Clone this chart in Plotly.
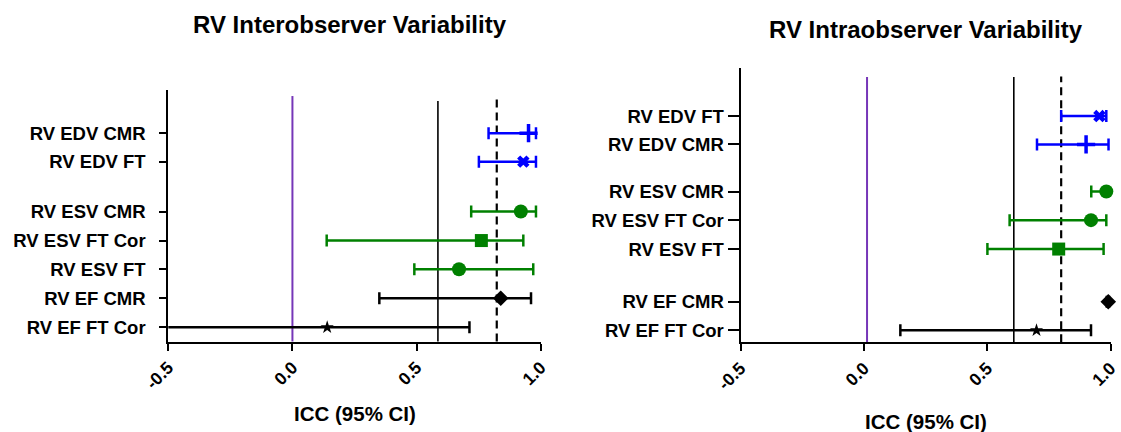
import plotly.graph_objects as go

# ---------------- data ----------------
left_labels = ["RV EDV CMR", "RV EDV FT", "RV ESV CMR", "RV ESV FT Cor", "RV ESV FT", "RV EF CMR", "RV EF FT Cor"]
left_icc = [0.951, 0.930, 0.920, 0.761, 0.671, 0.839, 0.140]
left_lower = [0.790, 0.751, 0.720, 0.138, 0.491, 0.350, -0.55]
left_upper = [0.981, 0.981, 0.981, 0.930, 0.970, 0.961, 0.713]
left_rows = [6.69, 5.71, 3.99, 2.99, 2.00, 1.00, 0.00]

right_labels = ["RV EDV FT", "RV EDV CMR", "RV ESV CMR", "RV ESV FT Cor", "RV ESV FT", "RV EF CMR", "RV EF FT Cor"]
right_icc = [0.955, 0.901, 0.983, 0.921, 0.790, 0.991, 0.700]
right_lower = [0.800, 0.702, 0.922, 0.591, 0.501, 0.985, 0.148]
right_upper = [0.983, 0.992, 0.990, 0.983, 0.972, 0.995, 0.921]
right_rows = [7.49, 6.50, 4.85, 3.85, 2.84, 1.00, 0.00]

left_refs = {"purple": 0.0, "solid": 0.586, "dashed": 0.823}
right_refs = {"purple": 0.013, "solid": 0.608, "dashed": 0.800}

x_ticks = [-0.5, 0.0, 0.5, 1.0]
x_ticktext = ["-0.5", "0.0", "0.5", "1.0"]

# ---------------- styles ----------------
BLUE = "#0000ff"
GREEN = "#008000"
BLACK = "#000000"
PURPLE = "#7636b8"

left_style = [
    (BLUE, "cross-thin", 13), (BLUE, "x", 11), (GREEN, "circle", 14),
    (GREEN, "square", 13), (GREEN, "circle", 14), (BLACK, "diamond", 12), (BLACK, "star", 10),
]
right_style = [
    (BLUE, "x", 11), (BLUE, "cross-thin", 13), (GREEN, "circle", 14),
    (GREEN, "circle", 14), (GREEN, "square", 13), (BLACK, "diamond", 12), (BLACK, "star", 10),
]

FONT = "Liberation Sans, Arial, sans-serif"

fig = go.Figure()


def add_panel(labels, icc, lo, hi, rows, styles, xa, ya):
    for lab, v, l, h, r, (col, sym, sz) in zip(labels, icc, lo, hi, rows, styles):
        fig.add_trace(go.Scatter(
            x=[v], y=[r], mode="markers", name=lab, showlegend=False,
            xaxis=xa, yaxis=ya, cliponaxis=False,
            marker=dict(symbol=sym, size=sz, color=col,
                        line=dict(color=col, width=3.5 if "thin" in sym else 0)),
            error_x=dict(type="data", symmetric=False, array=[h - v], arrayminus=[v - l],
                         color=col, thickness=2.5, width=6),
        ))


add_panel(left_labels, left_icc, left_lower, left_upper, left_rows, left_style, "x", "y")
add_panel(right_labels, right_icc, right_lower, right_upper, right_rows, right_style, "x2", "y2")

W, H = 1121, 432
L_x = [168.3 / W, 540.7 / W]
L_y = [1 - 341.5 / H, 1 - 90 / H]
R_x = [740.5 / W, 1110.5 / W]
R_y = [1 - 342.3 / H, 1 - 68.3 / H]

xaxis_common = dict(
    range=[-0.5, 1.0], tickvals=x_ticks, ticktext=x_ticktext, tickangle=-45,
    showgrid=False, zeroline=False, showline=True, linecolor="black", linewidth=2,
    ticks="outside", ticklen=7, tickwidth=2, tickcolor="black", automargin=False,
    ticklabeloverflow="allow",
    tickfont=dict(family=FONT, size=17.5, color="black", weight="bold"),
)
yaxis_common = dict(
    showgrid=False, zeroline=False, showline=True, linecolor="black", linewidth=2,
    ticks="outside", tickwidth=2, tickcolor="black", automargin=False,
    ticklabeloverflow="allow",
    tickfont=dict(family=FONT, size=18.5, color="black", weight="bold"),
)

fig.update_layout(
    width=W, height=H, margin=dict(l=0, r=0, t=0, b=0),
    paper_bgcolor="white", plot_bgcolor="white",
    xaxis=dict(domain=L_x, anchor="y", **xaxis_common),
    yaxis=dict(domain=L_y, anchor="x", range=[-0.49, 8.18], tickvals=left_rows,
               ticktext=left_labels, ticklen=7, ticklabelstandoff=10, **yaxis_common),
    xaxis2=dict(domain=R_x, anchor="y2", **xaxis_common),
    yaxis2=dict(domain=R_y, anchor="x2", range=[-0.42, 9.16], tickvals=right_rows,
                ticktext=right_labels, ticklen=11, ticklabelstandoff=0, **yaxis_common),
)

shapes = []
for refs, xr, yr, tops in [(left_refs, "x", "y domain", (0.976, 0.956, 0.976)),
                           (right_refs, "x2", "y2 domain", (0.968, 0.968, 0.97))]:
    shapes.append(dict(type="line", xref=xr, yref=yr, x0=refs["purple"], x1=refs["purple"],
                       y0=0, y1=tops[0], line=dict(color=PURPLE, width=2), layer="below"))
    shapes.append(dict(type="line", xref=xr, yref=yr, x0=refs["solid"], x1=refs["solid"],
                       y0=0, y1=tops[1], line=dict(color="black", width=1.6), layer="below"))
    shapes.append(dict(type="line", xref=xr, yref=yr, x0=refs["dashed"], x1=refs["dashed"],
                       y0=0, y1=tops[2], line=dict(color="black", width=2.2, dash="8px,5px"),
                       layer="below"))
fig.update_layout(shapes=shapes)

annots = [
    dict(text="RV Interobserver Variability", x=350 / W, y=1 - 25 / H, size=24),
    dict(text="RV Intraobserver Variability", x=925.5 / W, y=1 - 30 / H, size=24),
    dict(text="ICC (95% CI)", x=354.5 / W, y=1 - 413 / H, size=20.5),
    dict(text="ICC (95% CI)", x=926 / W, y=1 - 421 / H, size=20.5),
]
for a in annots:
    fig.add_annotation(text=a["text"], x=a["x"], y=a["y"], xref="paper", yref="paper",
                       xanchor="center", yanchor="middle", showarrow=False,
                       font=dict(family=FONT, size=a["size"], color="black", weight="bold"))

fig.write_html("out.html")
